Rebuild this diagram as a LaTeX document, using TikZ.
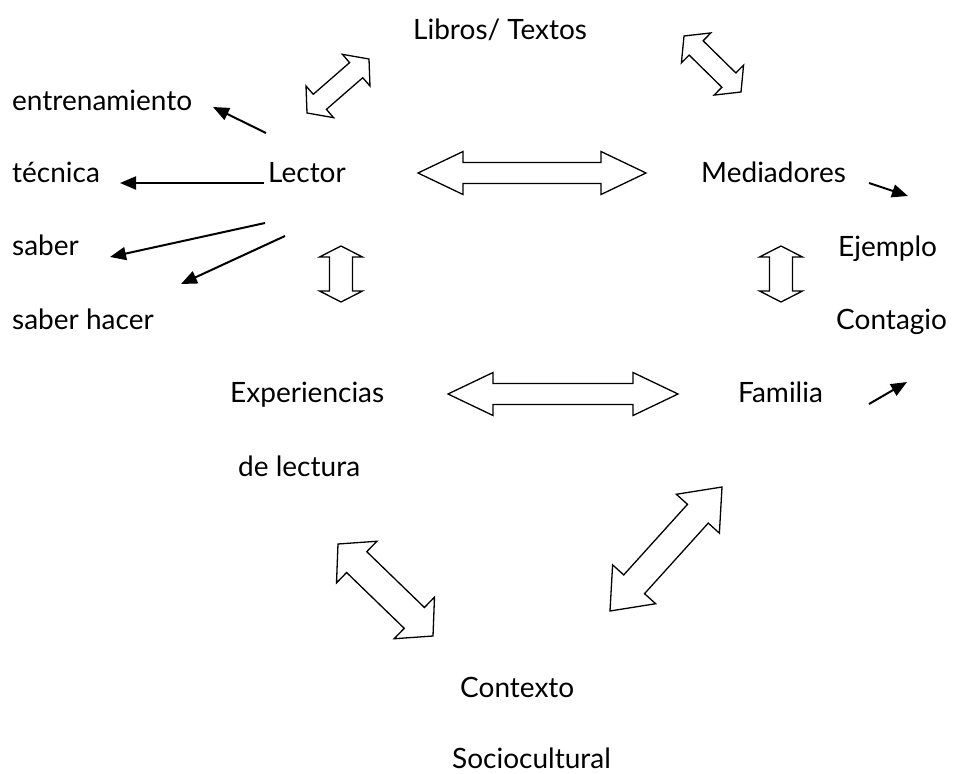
\documentclass[tikz,border=0pt]{standalone}
\usepackage{fontspec}
\setmainfont{Lato}
\usetikzlibrary{calc,arrows.meta}

\begin{document}
\begin{tikzpicture}[x=1pt, y=-1pt, >={Triangle[length=16pt,width=13pt]},
    word/.style={font=\fontsize{28}{32}\selectfont, inner sep=0pt, anchor=base west},
    blockarr/.style={draw=black, line width=1.3pt, line join=miter, fill=white},
    thinarr/.style={->, line width=2pt}]
    \useasboundingbox (0,0) rectangle (954,774);
    % double block arrow: from, to, shaft half width, head half width, head length
    \def\blockarrow#1#2#3#4#5{
        \draw[blockarr] let \p1=(#1), \p2=(#2), \n1={atan2(\y2-\y1,\x2-\x1)} in
            (\p1) -- ($(\p1)+(\n1:#5)+(\n1+90:#4)$) -- ($(\p1)+(\n1:#5)+(\n1+90:#3)$)
            -- ($(\p2)+(\n1+180:#5)+(\n1+90:#3)$) -- ($(\p2)+(\n1+180:#5)+(\n1+90:#4)$)
            -- (\p2) -- ($(\p2)+(\n1+180:#5)+(\n1-90:#4)$) -- ($(\p2)+(\n1+180:#5)+(\n1-90:#3)$)
            -- ($(\p1)+(\n1:#5)+(\n1-90:#3)$) -- ($(\p1)+(\n1:#5)+(\n1-90:#4)$) -- cycle;
    }

    % texts
    \node [word] (libros) at (413, 39) {Libros/ Textos};
    \node [word] (entren) at (12, 110) {entrenamiento};
    \node [word] (tecnica) at (12, 182) {técnica};
    \node [word] (saber) at (12, 255) {saber};
    \node [word] (saberh) at (12, 329) {saber hacer};
    \node [word] (lector) at (268, 182) {Lector};
    \node [word] (mediad) at (701, 182) {Mediadores};
    \node [word] (ejemplo) at (838, 256) {Ejemplo};
    \node [word] (contagio) at (836, 329) {Contagio};
    \node [word] (exper) at (230, 402) {Experiencias};
    \node [word] (delect) at (238, 476) {de lectura};
    \node [word] (familia) at (738, 402) {Familia};
    \node [word] (contexto) at (460, 697) {Contexto};
    \node [word] (socio) at (452, 768) {Sociocultural};

    % ends of the block arrows
    \coordinate (ll1) at (307, 113);
    \coordinate (ll2) at (369, 59);
    \coordinate (lm1) at (684, 36);
    \coordinate (lm2) at (741, 92);
    \coordinate (lme1) at (418, 173);
    \coordinate (lme2) at (646, 173);
    \coordinate (lex1) at (341, 246);
    \coordinate (lex2) at (341, 302);
    \coordinate (mf1) at (781, 246);
    \coordinate (mf2) at (781, 302);
    \coordinate (ef1) at (448, 394);
    \coordinate (ef2) at (678, 394);
    \coordinate (ec1) at (338, 544);
    \coordinate (ec2) at (433, 636);
    \coordinate (fc1) at (722, 487);
    \coordinate (fc2) at (610, 611);

    \blockarrow{ll1}{ll2}{10pt}{21pt}{17pt}
    \blockarrow{lm1}{lm2}{10pt}{21pt}{17pt}
    \blockarrow{lme1}{lme2}{10.5pt}{21.5pt}{45pt}
    \blockarrow{ef1}{ef2}{10.5pt}{21.5pt}{45pt}
    \blockarrow{lex1}{lex2}{11.5pt}{21.5pt}{11pt}
    \blockarrow{mf1}{mf2}{11.5pt}{21.5pt}{11pt}
    \blockarrow{ec1}{ec2}{14.5pt}{29pt}{26pt}
    \blockarrow{fc1}{fc2}{14pt}{29pt}{36pt}

    % thin arrows
    \coordinate (a1) at (266, 133);
    \coordinate (b1) at (213, 107);
    \coordinate (a2) at (264, 183);
    \coordinate (b2) at (120, 183);
    \coordinate (a3) at (265, 223);
    \coordinate (b3) at (110, 257);
    \coordinate (a4) at (285, 236);
    \coordinate (b4) at (181, 284);
    \coordinate (a5) at (869, 183);
    \coordinate (b5) at (908, 196);
    \coordinate (a6) at (869, 404);
    \coordinate (b6) at (907, 382);
    \foreach \i in {1,...,6}
        \draw [thinarr] (a\i) -- (b\i);

\end{tikzpicture}
\end{document}
